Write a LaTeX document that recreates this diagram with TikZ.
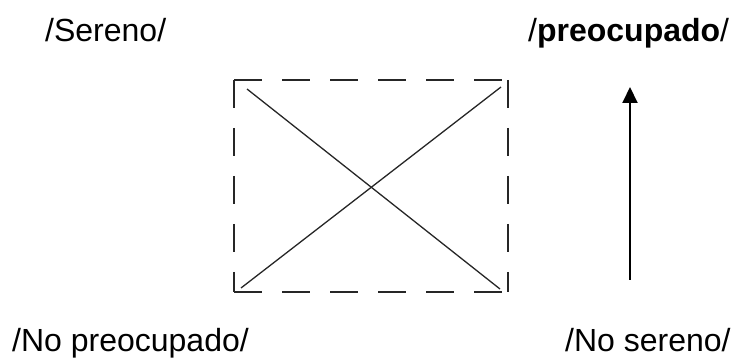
\documentclass[tikz,border=0pt]{standalone}
\usepackage{fontspec}
\setmainfont{Liberation Sans}
\usetikzlibrary{arrows.meta}
\begin{document}
\begin{tikzpicture}[x=1pt,y=-1pt,
  lbl/.style={anchor=base west,inner sep=0pt,font=\fontsize{32}{38}\selectfont},
  frame/.style={draw=black!85,line width=2.4pt,dash pattern=on 28pt off 20pt},
  diag/.style={draw=black!85,line width=1.3pt},
  arr/.style={draw=black,line width=2pt,-{Triangle[length=16pt,width=15pt]}}]
\useasboundingbox (0,0) rectangle (734,358);
\node[lbl] (sereno) at (45,42) {/Sereno/};
\node[lbl] (preoc) at (528,42) {/\textbf{preocupado}/};
\node[lbl] (nopreoc) at (12,351) {/No preocupado/};
\node[lbl] (nosereno) at (565,351) {/No sereno/};
\coordinate (tl) at (234,80);
\coordinate (tr) at (508,80);
\coordinate (br) at (508,292);
\coordinate (bl) at (234,292);
\draw[frame] (tl) -- (tr);
\draw[frame] (tr) -- (br);
\draw[frame] (bl) -- (br);
\draw[frame] (tl) -- (bl);
\coordinate (d1a) at (247,89);
\coordinate (d1b) at (500,289);
\coordinate (d2a) at (241,288);
\coordinate (d2b) at (501,87);
\draw[diag] (d1a) -- (d1b);
\draw[diag] (d2a) -- (d2b);
\coordinate (as) at (630,280);
\coordinate (ae) at (630,87);
\draw[arr] (as) -- (ae);
\end{tikzpicture}
\end{document}
